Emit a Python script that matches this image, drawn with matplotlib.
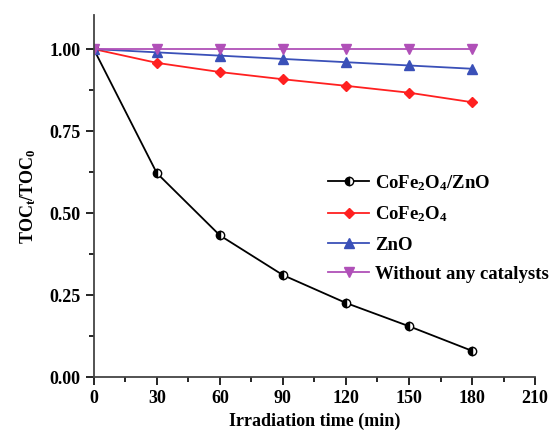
import matplotlib
matplotlib.use('Agg')
import matplotlib.pyplot as plt
from matplotlib.ticker import MultipleLocator

plt.rcParams['font.family'] = 'Liberation Serif'
plt.rcParams['font.weight'] = 'bold'
plt.rcParams['mathtext.fontset'] = 'custom'
plt.rcParams['mathtext.rm'] = 'Liberation Serif:bold'
plt.rcParams['mathtext.it'] = 'Liberation Serif:bold'
plt.rcParams['mathtext.bf'] = 'Liberation Serif:bold'
plt.rcParams['mathtext.default'] = 'rm'

# data
time = [0, 30, 60, 90, 120, 150, 180]
cofe2o4_zno = [1.0, 0.622, 0.432, 0.311, 0.226, 0.155, 0.080]
cofe2o4 = [1.0, 0.958, 0.930, 0.908, 0.888, 0.867, 0.838]
zno = [1.0, 0.990, 0.980, 0.970, 0.960, 0.950, 0.940]
no_cat = [1.0, 1.0, 1.0, 1.0, 1.0, 1.0, 1.0]

fig = plt.figure(figsize=(5.58, 4.4), dpi=100)
ax = fig.add_axes([0.168, 0.143, 0.791, 0.823])

ax.plot(time, cofe2o4_zno, color='black', lw=1.3, marker='o', ms=6,
        fillstyle='left', markerfacecolor='black', markerfacecoloralt='white',
        markeredgecolor='black', mew=1, label='CoFe$_2$O$_4$/ZnO')
ax.plot(time, cofe2o4, color='#ff2020', lw=1.3, marker='D', ms=5.5,
        label='CoFe$_2$O$_4$')
ax.plot(time, zno, color='#3a50b8', lw=1.3, marker='^', ms=6.5,
        label='ZnO')
ax.plot(time, no_cat, color='#b050b8', lw=1.3, marker='v', ms=6.5,
        label='Without any catalysts')

ax.set_xlim(0, 210)
ax.set_ylim(0, 1.104)
ax.xaxis.set_major_locator(MultipleLocator(30))
ax.xaxis.set_minor_locator(MultipleLocator(15))
ax.yaxis.set_major_locator(MultipleLocator(0.25))
ax.yaxis.set_minor_locator(MultipleLocator(0.125))
ax.yaxis.set_major_formatter(plt.FormatStrFormatter('%.2f'))

ax.spines['top'].set_visible(False)
ax.spines['right'].set_visible(False)
for s in ['left', 'bottom']:
    ax.spines[s].set_linewidth(1.3)
    ax.spines[s].set_color('#444444')
ax.tick_params(which='major', direction='out', length=6, width=1.2, labelsize=13)
ax.tick_params(which='minor', direction='out', length=3.5, width=1.2)

ax.set_xlabel('Irradiation time (min)', fontsize=13, fontweight='bold')
ax.set_ylabel('TOC$_t$/TOC$_0$', fontsize=13, fontweight='bold', labelpad=8)

ax.legend(loc='upper left', bbox_to_anchor=(0.51, 0.59), frameon=False,
          fontsize=13.5, handlelength=2.2, labelspacing=0.65, borderpad=0,
          handletextpad=0.3)

plt.savefig('out.png', dpi=100)
